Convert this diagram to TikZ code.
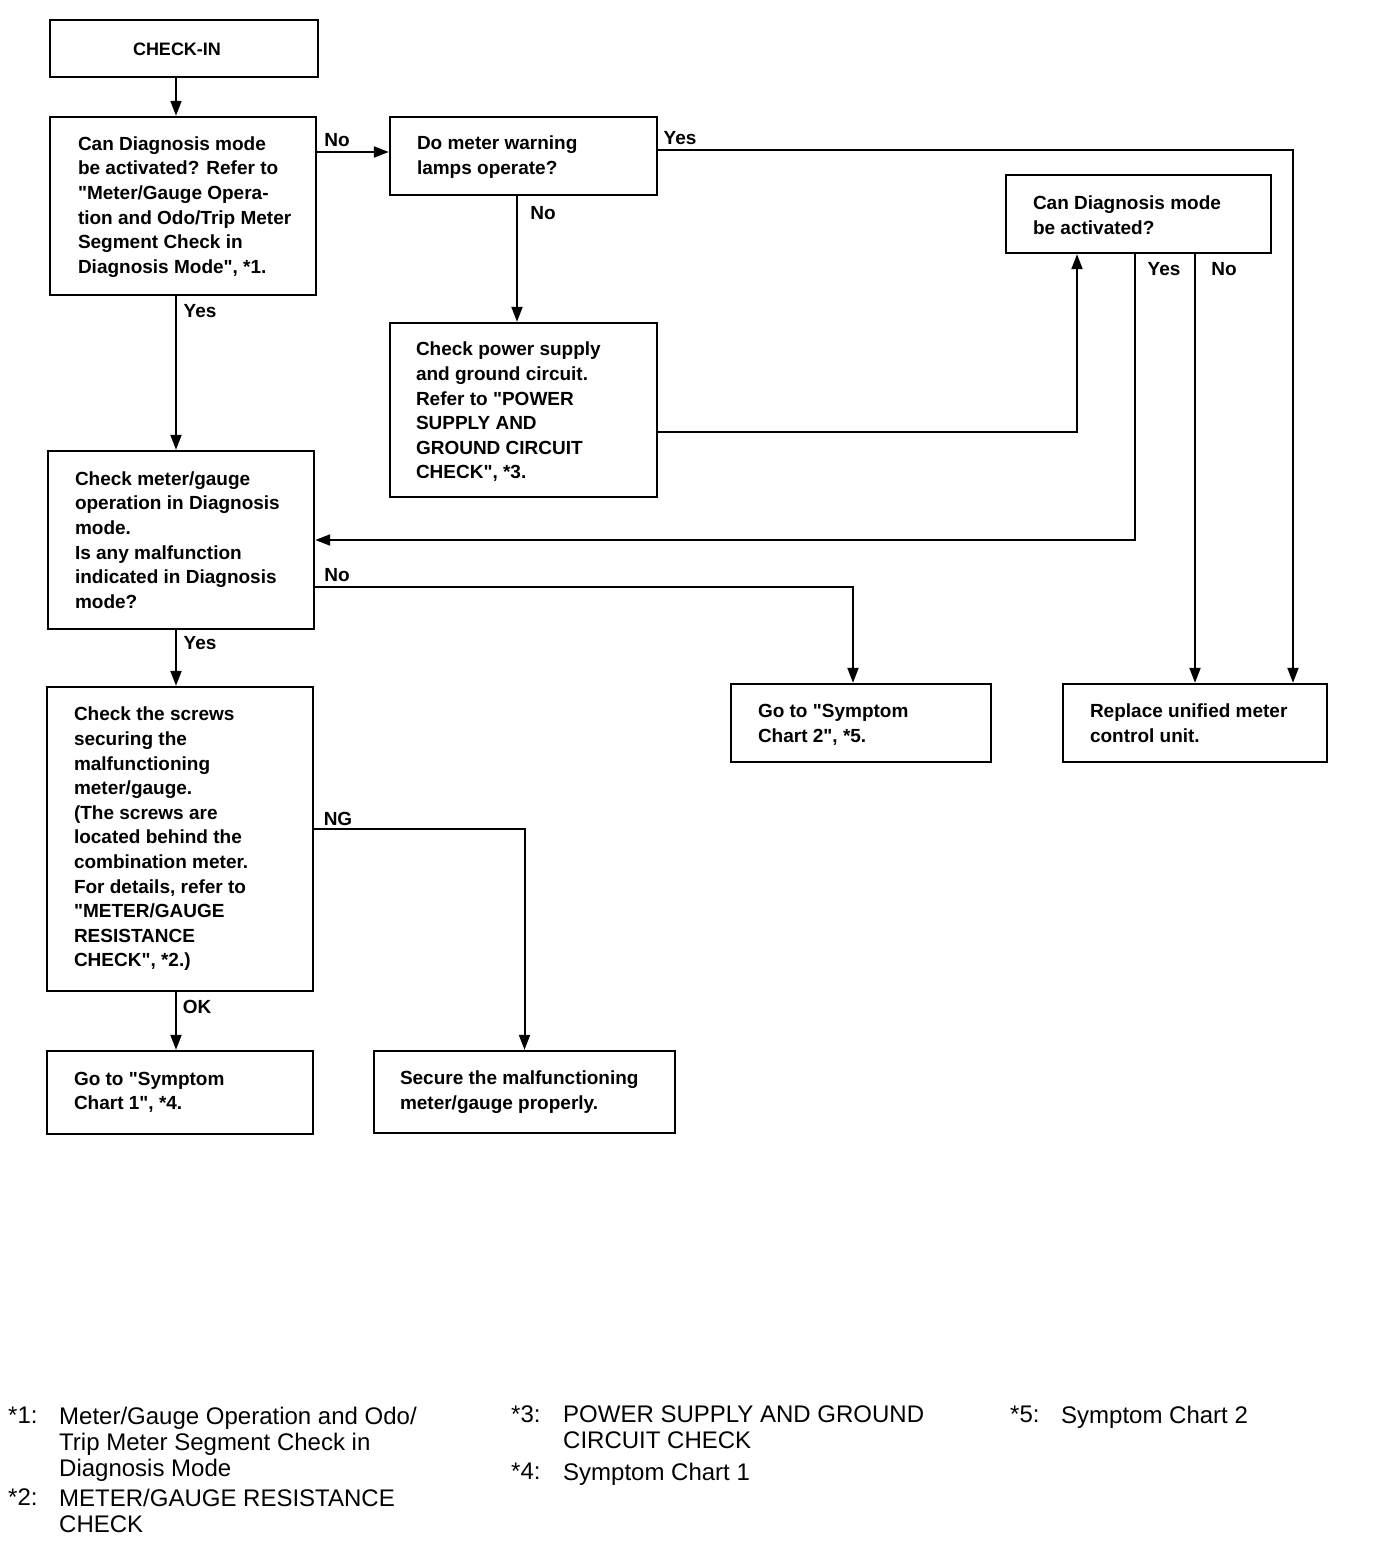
\documentclass[tikz,border=0pt]{standalone}
\usepackage{fontspec}
\setmainfont{Liberation Sans}[Ligatures=TeXOff]
\usetikzlibrary{arrows.meta}
\begin{document}
\begin{tikzpicture}[x=1pt,y=-1pt,
  box/.style={draw,line width=2.4pt,rectangle,inner sep=0pt},
  btxt/.style={anchor=west,align=left,inner sep=0pt,font=\bfseries\fontsize{19}{24.6}\selectfont},
  lbl/.style={inner sep=0pt,font=\bfseries\fontsize{19}{23}\selectfont},
  arr/.style={line width=2pt,-{Triangle[length=15pt,width=11pt]}},
  fn/.style={anchor=north west,align=left,inner sep=0pt,font=\fontsize{24}{26}\selectfont}
]
\useasboundingbox (0,0) rectangle (1376,1552);
\fill[white] (0,0) rectangle (1376,1552);
\coordinate (colx) at (176,0);

% boxes
\node[box,minimum width=268pt,minimum height=57pt] (ci) at (184,48.5) {};
\node[lbl,font=\bfseries\fontsize{18}{22}\selectfont] (cit) at (177,49) {CHECK-IN};

\node[box,minimum width=266pt,minimum height=178pt] (q1) at (183,206) {};
\node[btxt] (q1t) at ([xshift=29pt,yshift=-1pt]q1.west) {Can Diagnosis mode\\be activated? Refer to\\"Meter/Gauge Opera-\\tion and Odo/Trip Meter\\Segment Check in\\Diagnosis Mode", *1.};

\node[box,minimum width=267pt,minimum height=78pt] (q2) at (523.5,156) {};
\node[btxt] (q2t) at ([xshift=28pt,yshift=-1pt]q2.west) {Do meter warning\\lamps operate?};

\node[box,minimum width=265pt,minimum height=78pt] (q3) at (1138.5,214) {};
\node[btxt] (q3t) at ([xshift=28pt,yshift=-1pt]q3.west) {Can Diagnosis mode\\be activated?};

\node[box,minimum width=267pt,minimum height=174pt] (pow) at (523.5,410) {};
\node[btxt] (powt) at ([xshift=27pt,yshift=-2pt]pow.west) {Check power supply\\and ground circuit.\\Refer to "POWER\\SUPPLY AND\\GROUND CIRCUIT\\CHECK", *3.};

\node[box,minimum width=266pt,minimum height=178pt] (chk) at (181,540) {};
\node[btxt] (chkt) at ([xshift=28pt]chk.west) {Check meter/gauge\\operation in Diagnosis\\mode.\\Is any malfunction\\indicated in Diagnosis\\mode?};

\node[box,minimum width=260pt,minimum height=78pt] (s2) at (861,723) {};
\node[btxt] (s2t) at ([xshift=28pt,yshift=-2pt]s2.west) {Go to "Symptom\\Chart 2", *5.};

\node[box,minimum width=264pt,minimum height=78pt] (rep) at (1195,723) {};
\node[btxt] (rept) at ([xshift=28pt]rep.west) {Replace unified meter\\control unit.};

\node[box,minimum width=266pt,minimum height=304pt] (scr) at (180,839) {};
\node[btxt] (scrt) at ([xshift=28pt]scr.west) {Check the screws\\securing the\\malfunctioning\\meter/gauge.\\(The screws are\\located behind the\\combination meter.\\For details, refer to\\"METER/GAUGE\\RESISTANCE\\CHECK", *2.)};

\node[box,minimum width=266pt,minimum height=83pt] (s1) at (180,1092.5) {};
\node[btxt] (s1t) at ([xshift=28pt]s1.west) {Go to "Symptom\\Chart 1", *4.};

\node[box,minimum width=301pt,minimum height=82pt] (sec) at (524.5,1092) {};
\node[btxt] (sect) at ([xshift=27pt]sec.west) {Secure the malfunctioning\\meter/gauge properly.};

% connectors
\draw[arr] (ci.south -| colx) -- (q1.north -| colx);
\draw[arr] ([yshift=4pt]q2.west -| q1.east) -- ([yshift=4pt]q2.west);
\draw[arr] ([yshift=6pt]q2.east) -| ([xshift=98pt]rep.north);
\draw[arr] ([xshift=-6.5pt]q2.south) -- ([xshift=-6.5pt]pow.north);
\draw[arr] ([yshift=-22pt]pow.east) -| ([xshift=-61.5pt]q3.south);
\draw[arr] ([xshift=-3.5pt]q3.south) |- (chk.east);
\draw[arr] (rep.north |- q3.south) -- (rep.north);
\draw[arr] (q1.south -| colx) -- (chk.north -| colx);
\draw[arr] ([yshift=-47pt]chk.east) -| ([xshift=-8pt]s2.north);
\draw[arr] (chk.south -| colx) -- (scr.north -| colx);
\draw[arr] ([yshift=10pt]scr.east) -| (sec.north);
\draw[arr] (scr.south -| colx) -- (s1.north -| colx);

% labels
\node[lbl] (l1) at (337,140) {No};
\node[lbl] (l2) at (680,138) {Yes};
\node[lbl] (l3) at (543,213) {No};
\node[lbl] (l4) at (1164,269) {Yes};
\node[lbl] (l5) at (1224,269) {No};
\node[lbl] (l6) at (200,311) {Yes};
\node[lbl] (l7) at (337,575) {No};
\node[lbl] (l8) at (200,643) {Yes};
\node[lbl] (l9) at (338,819) {NG};
\node[lbl] (l10) at (197,1007) {OK};

% footnotes
\node[fn] (f1m) at (8,1407) {*1:};
\node[fn] (f1) at (59,1407) {Meter/Gauge Operation and Odo/\\Trip Meter Segment Check in\\Diagnosis Mode};
\node[fn] (f2m) at (8,1489) {*2:};
\node[fn] (f2) at (59,1489) {METER/GAUGE RESISTANCE\\CHECK};
\node[fn] (f3m) at (511,1406) {*3:};
\node[fn] (f3) at (563,1406) {POWER SUPPLY AND GROUND\\CIRCUIT CHECK};
\node[fn] (f4m) at (511,1463) {*4:};
\node[fn] (f4) at (563,1463) {Symptom Chart 1};
\node[fn] (f5m) at (1010,1406) {*5:};
\node[fn] (f5) at (1061,1406) {Symptom Chart 2};
\end{tikzpicture}
\end{document}
